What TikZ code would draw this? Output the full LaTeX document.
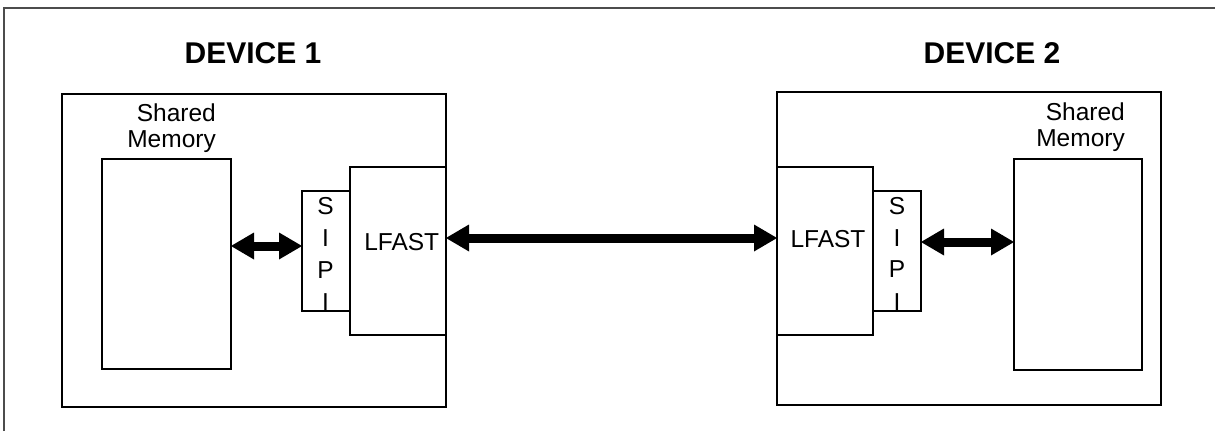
\documentclass[tikz,border=0pt]{standalone}
\usepackage{fontspec}
\setmainfont{Liberation Sans}
\usetikzlibrary{arrows.meta}
\begin{document}
\begin{tikzpicture}[x=1pt,y=-1pt,
  box/.style={draw=black,line width=1.2pt,inner sep=0pt,outer sep=0pt},
  lbl/.style={inner sep=0pt,font=\fontsize{24.5}{26}\selectfont},
  title/.style={inner sep=0pt,font=\fontsize{30}{32}\selectfont\bfseries},
  biarrow/.style={line width=9pt,
    {Triangle[length=23pt,width=27pt,line width=0pt]}-{Triangle[length=23pt,width=27pt,line width=0pt]}},
  framel/.style={draw=black!70,line width=1.3pt}]
\useasboundingbox (0,0) rectangle (1215,431);
% outer frame (open on right and bottom)
\coordinate (fbl) at (4,431);
\coordinate (ftl) at (4,8);
\coordinate (ftr) at (1215,8);
\draw[framel] (fbl) -- (ftl) -- (ftr);
% titles
\node[title,anchor=base] (t1) at (253,63.3) {DEVICE 1};
\node[title,anchor=base] (t2) at (992,63.3) {DEVICE 2};
% device 1
\node[box,minimum width=384pt,minimum height=313pt] (dev1) at (254,250.5) {};
\node[box,minimum width=129pt,minimum height=210pt] (sm1) at (166.5,264) {};
\node[box,minimum width=48pt,minimum height=120pt] (sipi1) at (326,251) {};
\node[box,minimum width=96pt,minimum height=168pt] (lfast1) at (398,251) {};
\node[lbl,align=right,anchor=north east] (sml1) at (216,104) {Shared\\Memory};
\node[lbl,anchor=base] (lfl1) at (401.7,250.7) {LFAST};
\node[lbl,anchor=base] (s1a) at (325.5,214) {S};
\node[lbl,anchor=base] (s1b) at (325.5,246.5) {I};
\node[lbl,anchor=base] (s1c) at (325.5,278) {P};
\node[lbl,anchor=base] (s1d) at (325.5,310) {I};
% device 2
\node[box,minimum width=384pt,minimum height=313pt] (dev2) at (969,248.5) {};
\node[box,minimum width=96pt,minimum height=168pt] (lfast2) at (825,251) {};
\node[box,minimum width=48pt,minimum height=120pt] (sipi2) at (897,251) {};
\node[box,minimum width=128pt,minimum height=211pt] (sm2) at (1078,264.5) {};
\node[lbl,align=right,anchor=north east] (sml2) at (1125,102.7) {Shared\\Memory};
\node[lbl,anchor=base] (lfl2) at (828,247.7) {LFAST};
\node[lbl,anchor=base] (s2a) at (897,214) {S};
\node[lbl,anchor=base] (s2b) at (897,246.5) {I};
\node[lbl,anchor=base] (s2c) at (897,277.5) {P};
\node[lbl,anchor=base] (s2d) at (897,310) {I};
% connectors
\draw[biarrow] ([yshift=5pt]sipi1.west -| sm1.east) -- ([yshift=5pt]sipi1.west);
\draw[biarrow] ([yshift=13pt]lfast1.east) -- ([yshift=13pt]lfast2.west);
\draw[biarrow] ([yshift=9pt]sipi2.east) -- ([yshift=9pt]sipi2.east -| sm2.west);
\end{tikzpicture}
\end{document}
